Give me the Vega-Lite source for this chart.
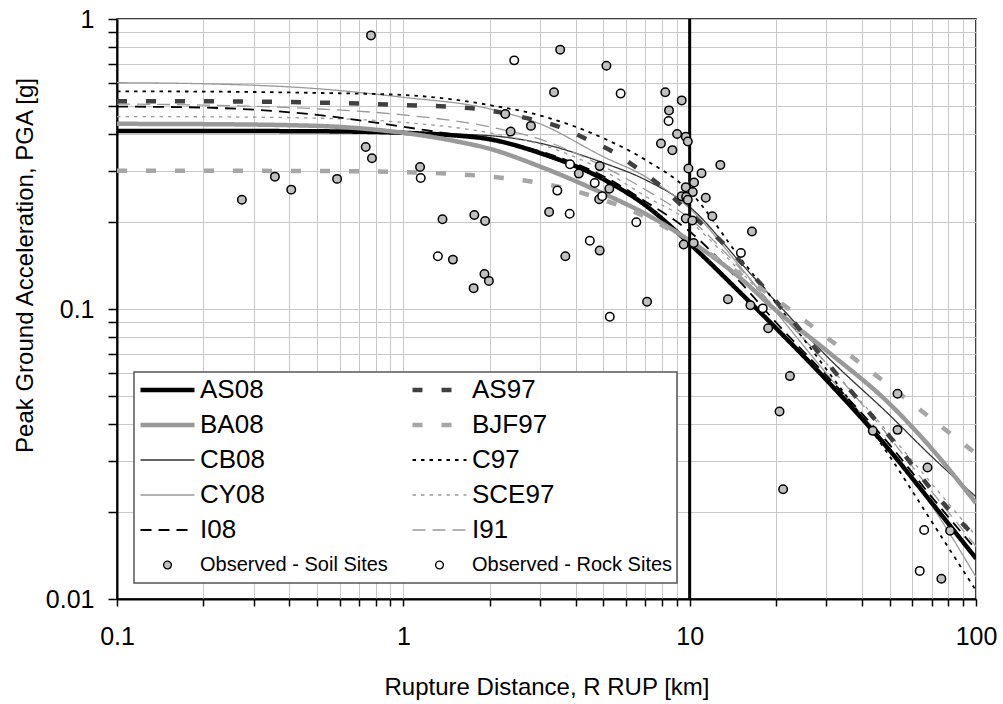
{
  "$schema": "https://vega.github.io/schema/vega-lite/v6.json",
  "width": 859,
  "height": 580,
  "autosize": {"type": "none"},
  "padding": {"left": 117, "top": 19, "right": 27, "bottom": 105},
  "background": "#ffffff",
  "config": {
    "font": "Liberation Sans",
    "view": {"stroke": "#000000", "strokeWidth": 1.5},
    "axis": {"labelFont": "Liberation Sans", "titleFont": "Liberation Sans"}
  },
  "datasets": {
    "curves": [
      {"series":"AS08","x":0.1,"y":0.411},{"series":"AS08","x":0.2,"y":0.411},{"series":"AS08","x":0.5,"y":0.41},{"series":"AS08","x":1,"y":0.405},{"series":"AS08","x":1.5,"y":0.397},{"series":"AS08","x":2,"y":0.385},{"series":"AS08","x":3,"y":0.345},{"series":"AS08","x":5,"y":0.28},{"series":"AS08","x":7,"y":0.228},{"series":"AS08","x":10,"y":0.168},{"series":"AS08","x":15,"y":0.114},{"series":"AS08","x":20,"y":0.086},{"series":"AS08","x":30,"y":0.057},{"series":"AS08","x":50,"y":0.0325},{"series":"AS08","x":70,"y":0.0215},{"series":"AS08","x":100,"y":0.0138},
      {"series":"BA08","x":0.1,"y":0.435},{"series":"BA08","x":0.2,"y":0.434},{"series":"BA08","x":0.5,"y":0.428},{"series":"BA08","x":0.7,"y":0.42},{"series":"BA08","x":1,"y":0.405},{"series":"BA08","x":1.5,"y":0.38},{"series":"BA08","x":2,"y":0.357},{"series":"BA08","x":3,"y":0.31},{"series":"BA08","x":5,"y":0.25},{"series":"BA08","x":7,"y":0.213},{"series":"BA08","x":10,"y":0.172},{"series":"BA08","x":15,"y":0.128},{"series":"BA08","x":20,"y":0.099},{"series":"BA08","x":30,"y":0.072},{"series":"BA08","x":50,"y":0.047},{"series":"BA08","x":70,"y":0.033},{"series":"BA08","x":100,"y":0.0214},
      {"series":"CB08","x":0.1,"y":0.41},{"series":"CB08","x":0.5,"y":0.41},{"series":"CB08","x":1,"y":0.405},{"series":"CB08","x":2,"y":0.396},{"series":"CB08","x":3,"y":0.373},{"series":"CB08","x":5,"y":0.319},{"series":"CB08","x":7,"y":0.279},{"series":"CB08","x":10,"y":0.225},{"series":"CB08","x":15,"y":0.145},{"series":"CB08","x":20,"y":0.106},{"series":"CB08","x":30,"y":0.069},{"series":"CB08","x":50,"y":0.043},{"series":"CB08","x":70,"y":0.031},{"series":"CB08","x":100,"y":0.0225},
      {"series":"CY08","x":0.1,"y":0.603},{"series":"CY08","x":0.2,"y":0.598},{"series":"CY08","x":0.5,"y":0.575},{"series":"CY08","x":1,"y":0.537},{"series":"CY08","x":2,"y":0.49},{"series":"CY08","x":3,"y":0.435},{"series":"CY08","x":5,"y":0.335},{"series":"CY08","x":7,"y":0.286},{"series":"CY08","x":10,"y":0.222},{"series":"CY08","x":15,"y":0.14},{"series":"CY08","x":20,"y":0.098},{"series":"CY08","x":30,"y":0.06},{"series":"CY08","x":50,"y":0.033},{"series":"CY08","x":70,"y":0.021},{"series":"CY08","x":100,"y":0.0119},
      {"series":"I08","x":0.1,"y":0.499},{"series":"I08","x":0.2,"y":0.495},{"series":"I08","x":0.5,"y":0.467},{"series":"I08","x":1,"y":0.425},{"series":"I08","x":1.5,"y":0.4},{"series":"I08","x":2,"y":0.385},{"series":"I08","x":3,"y":0.35},{"series":"I08","x":5,"y":0.287},{"series":"I08","x":7,"y":0.235},{"series":"I08","x":10,"y":0.185},{"series":"I08","x":15,"y":0.124},{"series":"I08","x":20,"y":0.09},{"series":"I08","x":30,"y":0.059},{"series":"I08","x":50,"y":0.034},{"series":"I08","x":70,"y":0.0225},{"series":"I08","x":100,"y":0.0148},
      {"series":"AS97","x":0.1,"y":0.52},{"series":"AS97","x":0.2,"y":0.52},{"series":"AS97","x":0.5,"y":0.515},{"series":"AS97","x":1,"y":0.505},{"series":"AS97","x":1.7,"y":0.493},{"series":"AS97","x":2.7,"y":0.455},{"series":"AS97","x":3.5,"y":0.425},{"series":"AS97","x":4.3,"y":0.388},{"series":"AS97","x":5.35,"y":0.35},{"series":"AS97","x":6.5,"y":0.308},{"series":"AS97","x":7.9,"y":0.266},{"series":"AS97","x":10,"y":0.214},{"series":"AS97","x":13.3,"y":0.166},{"series":"AS97","x":15.6,"y":0.14},{"series":"AS97","x":21.5,"y":0.098},{"series":"AS97","x":29,"y":0.0685},{"series":"AS97","x":39.4,"y":0.0478},{"series":"AS97","x":52.9,"y":0.0339},{"series":"AS97","x":71.3,"y":0.0233},{"series":"AS97","x":100,"y":0.0163},
      {"series":"BJF97","x":0.1,"y":0.3},{"series":"BJF97","x":0.5,"y":0.299},{"series":"BJF97","x":1,"y":0.2965},{"series":"BJF97","x":2,"y":0.286},{"series":"BJF97","x":3,"y":0.272},{"series":"BJF97","x":5,"y":0.238},{"series":"BJF97","x":7,"y":0.208},{"series":"BJF97","x":10,"y":0.1715},{"series":"BJF97","x":15,"y":0.132},{"series":"BJF97","x":20,"y":0.108},{"series":"BJF97","x":30,"y":0.08},{"series":"BJF97","x":50,"y":0.0542},{"series":"BJF97","x":70,"y":0.0418},{"series":"BJF97","x":100,"y":0.0317},
      {"series":"C97","x":0.1,"y":0.563},{"series":"C97","x":0.2,"y":0.562},{"series":"C97","x":0.5,"y":0.556},{"series":"C97","x":1,"y":0.547},{"series":"C97","x":2,"y":0.505},{"series":"C97","x":3,"y":0.465},{"series":"C97","x":5,"y":0.388},{"series":"C97","x":7,"y":0.327},{"series":"C97","x":10,"y":0.254},{"series":"C97","x":15,"y":0.15},{"series":"C97","x":20,"y":0.105},{"series":"C97","x":30,"y":0.062},{"series":"C97","x":50,"y":0.031},{"series":"C97","x":70,"y":0.0185},{"series":"C97","x":100,"y":0.0107},
      {"series":"SCE97","x":0.1,"y":0.461},{"series":"SCE97","x":0.2,"y":0.46},{"series":"SCE97","x":0.5,"y":0.455},{"series":"SCE97","x":1,"y":0.44},{"series":"SCE97","x":2,"y":0.405},{"series":"SCE97","x":3,"y":0.37},{"series":"SCE97","x":5,"y":0.3},{"series":"SCE97","x":7,"y":0.245},{"series":"SCE97","x":10,"y":0.2},{"series":"SCE97","x":15,"y":0.135},{"series":"SCE97","x":20,"y":0.1},{"series":"SCE97","x":30,"y":0.065},{"series":"SCE97","x":50,"y":0.037},{"series":"SCE97","x":70,"y":0.025},{"series":"SCE97","x":100,"y":0.0165},
      {"series":"I91","x":0.1,"y":0.509},{"series":"I91","x":0.2,"y":0.505},{"series":"I91","x":0.5,"y":0.49},{"series":"I91","x":1,"y":0.467},{"series":"I91","x":2,"y":0.425},{"series":"I91","x":3,"y":0.385},{"series":"I91","x":5,"y":0.31},{"series":"I91","x":7,"y":0.258},{"series":"I91","x":10,"y":0.205},{"series":"I91","x":15,"y":0.138},{"series":"I91","x":20,"y":0.1},{"series":"I91","x":30,"y":0.065},{"series":"I91","x":50,"y":0.036},{"series":"I91","x":70,"y":0.0235},{"series":"I91","x":100,"y":0.0152}
    ],
    "obs": [
      {"series":"Observed - Soil Sites","x":0.771,"y":0.878},{"series":"Observed - Soil Sites","x":2.27,"y":0.47},{"series":"Observed - Soil Sites","x":2.37,"y":0.409},{"series":"Observed - Soil Sites","x":2.79,"y":0.428},{"series":"Observed - Soil Sites","x":0.739,"y":0.362},{"series":"Observed - Soil Sites","x":0.777,"y":0.331},{"series":"Observed - Soil Sites","x":1.144,"y":0.309},{"series":"Observed - Soil Sites","x":0.356,"y":0.286},{"series":"Observed - Soil Sites","x":0.406,"y":0.258},{"series":"Observed - Soil Sites","x":0.587,"y":0.281},{"series":"Observed - Soil Sites","x":0.273,"y":0.238},{"series":"Observed - Soil Sites","x":1.37,"y":0.204},{"series":"Observed - Soil Sites","x":1.49,"y":0.148},{"series":"Observed - Soil Sites","x":1.77,"y":0.211},{"series":"Observed - Soil Sites","x":1.93,"y":0.201},{"series":"Observed - Soil Sites","x":1.92,"y":0.132},{"series":"Observed - Soil Sites","x":1.99,"y":0.125},{"series":"Observed - Soil Sites","x":1.76,"y":0.118},{"series":"Observed - Soil Sites","x":3.53,"y":0.784},{"series":"Observed - Soil Sites","x":5.12,"y":0.69},{"series":"Observed - Soil Sites","x":3.36,"y":0.559},{"series":"Observed - Soil Sites","x":8.22,"y":0.559},{"series":"Observed - Soil Sites","x":9.38,"y":0.524},{"series":"Observed - Soil Sites","x":8.47,"y":0.484},{"series":"Observed - Soil Sites","x":9.04,"y":0.401},{"series":"Observed - Soil Sites","x":9.69,"y":0.393},{"series":"Observed - Soil Sites","x":9.85,"y":0.378},{"series":"Observed - Soil Sites","x":7.94,"y":0.372},{"series":"Observed - Soil Sites","x":8.7,"y":0.353},{"series":"Observed - Soil Sites","x":9.9,"y":0.305},{"series":"Observed - Soil Sites","x":11.0,"y":0.294},{"series":"Observed - Soil Sites","x":12.8,"y":0.314},{"series":"Observed - Soil Sites","x":10.36,"y":0.273},{"series":"Observed - Soil Sites","x":9.69,"y":0.263},{"series":"Observed - Soil Sites","x":10.25,"y":0.253},{"series":"Observed - Soil Sites","x":9.38,"y":0.245},{"series":"Observed - Soil Sites","x":9.72,"y":0.244},{"series":"Observed - Soil Sites","x":9.85,"y":0.238},{"series":"Observed - Soil Sites","x":11.38,"y":0.242},{"series":"Observed - Soil Sites","x":12.0,"y":0.209},{"series":"Observed - Soil Sites","x":9.69,"y":0.205},{"series":"Observed - Soil Sites","x":10.22,"y":0.202},{"series":"Observed - Soil Sites","x":16.5,"y":0.185},{"series":"Observed - Soil Sites","x":9.53,"y":0.167},{"series":"Observed - Soil Sites","x":10.33,"y":0.169},{"series":"Observed - Soil Sites","x":13.6,"y":0.108},{"series":"Observed - Soil Sites","x":16.3,"y":0.103},{"series":"Observed - Soil Sites","x":4.1,"y":0.293},{"series":"Observed - Soil Sites","x":4.85,"y":0.311},{"series":"Observed - Soil Sites","x":5.24,"y":0.26},{"series":"Observed - Soil Sites","x":4.83,"y":0.239},{"series":"Observed - Soil Sites","x":3.23,"y":0.216},{"series":"Observed - Soil Sites","x":4.85,"y":0.159},{"series":"Observed - Soil Sites","x":3.68,"y":0.152},{"series":"Observed - Soil Sites","x":7.1,"y":0.106},{"series":"Observed - Soil Sites","x":18.8,"y":0.0858},{"series":"Observed - Soil Sites","x":22.4,"y":0.0587},{"series":"Observed - Soil Sites","x":20.6,"y":0.0443},{"series":"Observed - Soil Sites","x":21.2,"y":0.0239},{"series":"Observed - Soil Sites","x":43.6,"y":0.038},{"series":"Observed - Soil Sites","x":53.2,"y":0.051},{"series":"Observed - Soil Sites","x":53.2,"y":0.0383},{"series":"Observed - Soil Sites","x":67.7,"y":0.0284},{"series":"Observed - Soil Sites","x":81.2,"y":0.0172},{"series":"Observed - Soil Sites","x":75.7,"y":0.01175},
      {"series":"Observed - Rock Sites","x":1.15,"y":0.283},{"series":"Observed - Rock Sites","x":1.32,"y":0.152},{"series":"Observed - Rock Sites","x":2.44,"y":0.72},{"series":"Observed - Rock Sites","x":5.74,"y":0.553},{"series":"Observed - Rock Sites","x":8.44,"y":0.445},{"series":"Observed - Rock Sites","x":15.1,"y":0.156},{"series":"Observed - Rock Sites","x":18.0,"y":0.1005},{"series":"Observed - Rock Sites","x":3.82,"y":0.3155},{"series":"Observed - Rock Sites","x":4.66,"y":0.272},{"series":"Observed - Rock Sites","x":4.95,"y":0.245},{"series":"Observed - Rock Sites","x":3.45,"y":0.256},{"series":"Observed - Rock Sites","x":3.81,"y":0.213},{"series":"Observed - Rock Sites","x":6.51,"y":0.199},{"series":"Observed - Rock Sites","x":4.48,"y":0.172},{"series":"Observed - Rock Sites","x":5.26,"y":0.094},{"series":"Observed - Rock Sites","x":65.9,"y":0.0173},{"series":"Observed - Rock Sites","x":63.6,"y":0.0125}
    ],
    "ref": [{"x": 10}]
  },
  "encoding": {
    "x": {
      "field": "x", "type": "quantitative",
      "scale": {"type": "log", "domain": [0.1, 100], "nice": false},
      "axis": {
        "values": [0.1,0.2,0.3,0.4,0.5,0.6,0.7,0.8,0.9,1,2,3,4,5,6,7,8,9,10,20,30,40,50,60,70,80,90,100],
        "labelExpr": "indexof([0.1,1,10,100], datum.value) >= 0 ? format(datum.value, '~g') : ''",
        "labelOverlap": false, "labelFlush": false,
        "grid": true, "gridColor": "#c8c8c8", "gridWidth": 1,
        "tickSize": 7, "tickColor": "#000000", "tickWidth": 1.5,
        "domainColor": "#000000", "domainWidth": 2,
        "labelFontSize": 25, "labelColor": "#000000", "labelPadding": 18,
        "title": "Rupture Distance, R RUP  [km]",
        "titleFontSize": 24, "titleFontWeight": "normal", "titleColor": "#000000", "titlePadding": 26
      }
    },
    "y": {
      "field": "y", "type": "quantitative",
      "scale": {"type": "log", "domain": [0.01, 1], "nice": false},
      "axis": {
        "values": [0.01,0.02,0.03,0.04,0.05,0.06,0.07,0.08,0.09,0.1,0.2,0.3,0.4,0.5,0.6,0.7,0.8,0.9,1],
        "labelExpr": "indexof([0.01,0.1,1], datum.value) >= 0 ? format(datum.value, '~g') : ''",
        "labelOverlap": false, "labelFlush": false,
        "grid": true, "gridColor": "#c8c8c8", "gridWidth": 1,
        "tickSize": 9, "tickColor": "#000000", "tickWidth": 1.5,
        "domainColor": "#000000", "domainWidth": 2,
        "labelFontSize": 25, "labelColor": "#000000", "labelPadding": 14,
        "title": "Peak Ground Acceleration, PGA  [g]",
        "titleFontSize": 24, "titleFontWeight": "normal", "titleColor": "#000000", "titlePadding": 8,
        "titleY": 246
      }
    }
  },
  "layer": [
    {
      "data": {"name": "curves"},
      "transform": [{"filter": {"field": "series", "oneOf": ["CB08","CY08","SCE97","I91"]}}],
      "mark": {"type": "line", "interpolate": "monotone", "strokeWidth": 1.3, "clip": true},
      "encoding": {
        "color": {
          "field": "series", "type": "nominal",
          "scale": {"domain": ["AS08","AS97","BA08","BJF97","CB08","C97","CY08","SCE97","I08","I91","Observed - Soil Sites","Observed - Rock Sites"], "range": ["#000000","#404040","#999999","#a6a6a6","#333333","#000000","#999999","#999999","#000000","#999999","#000000","#000000"]},
          "legend": {
            "title": null, "orient": "none", "legendX": 17, "legendY": 353,
            "direction": "horizontal", "columns": 2,
            "padding": 4, "fillColor": "#ffffff", "strokeColor": "#555555",
            "labelFontSize": 26, "labelColor": "#000000", "labelFont": "Liberation Sans",
            "labelOffset": 3, "labelLimit": 400,
            "clipHeight": 28, "rowPadding": 7, "columnPadding": 22,
            "symbolType": "stroke", "symbolSize": 2916, "symbolStrokeWidth": 2,
            "encode": {
              "legend": {"update": {"strokeWidth": {"value": 1.5}}},
              "symbols": {"update": {
                "shape": {"signal": "indexof('' + (datum.value || datum), 'Observed') == 0 ? 'circle' : 'stroke'"},
                "size": {"signal": "indexof('' + (datum.value || datum), 'Observed') == 0 ? 60 : 2916"},
                "fill": {"signal": "(datum.value || datum) == 'Observed - Soil Sites' ? '#c0c0c0' : ((datum.value || datum) == 'Observed - Rock Sites' ? '#ffffff' : 'transparent')"},
                "strokeWidth": {"signal": "({'AS08':4.5,'AS97':4.5,'BA08':4.5,'BJF97':4.5,'CB08':1.3,'C97':1.8,'CY08':1.3,'SCE97':1.5,'I08':1.8,'I91':1.5,'Observed - Soil Sites':1.3,'Observed - Rock Sites':1.3})[datum.value || datum] || 1.5"},
                "strokeDash": {"signal": "({'AS08':[1,0],'AS97':[10,19],'BA08':[1,0],'BJF97':[10,19],'CB08':[1,0],'C97':[3.5,5],'CY08':[1,0],'SCE97':[3.5,5],'I08':[11,7],'I91':[13,7],'Observed - Soil Sites':[1,0],'Observed - Rock Sites':[1,0]})[datum.value || datum]"},
                "opacity": {"value": 1}
              }},
              "labels": {"update": {
                "fontSize": {"signal": "indexof('' + (datum.value || datum), 'Observed') == 0 ? 20 : 26"}
              }}
            }
          }
        },
        "strokeDash": {
          "field": "series", "type": "nominal", "legend": null,
          "scale": {"domain": ["AS08","AS97","BA08","BJF97","CB08","C97","CY08","SCE97","I08","I91"], "range": [[1,0],[10,19],[1,0],[10,19],[1,0],[3.5,5],[1,0],[3.5,5],[11,7],[13,7]]}
        }
      }
    },
    {
      "data": {"name": "curves"},
      "transform": [{"filter": {"field": "series", "oneOf": ["I08","C97"]}}],
      "mark": {"type": "line", "interpolate": "monotone", "strokeWidth": 1.8, "clip": true},
      "encoding": {
        "color": {"field": "series", "type": "nominal",
          "scale": {"domain": ["AS08","AS97","BA08","BJF97","CB08","C97","CY08","SCE97","I08","I91","Observed - Soil Sites","Observed - Rock Sites"], "range": ["#000000","#404040","#999999","#a6a6a6","#333333","#000000","#999999","#999999","#000000","#999999","#000000","#000000"]}},
        "strokeDash": {
          "field": "series", "type": "nominal", "legend": null,
          "scale": {"domain": ["AS08","AS97","BA08","BJF97","CB08","C97","CY08","SCE97","I08","I91"], "range": [[1,0],[10,19],[1,0],[10,19],[1,0],[3.5,5],[1,0],[3.5,5],[11,7],[13,7]]}
        }
      }
    },
    {
      "data": {"name": "curves"},
      "transform": [{"filter": {"field": "series", "oneOf": ["BJF97","AS97","BA08","AS08"]}}],
      "mark": {"type": "line", "interpolate": "monotone", "strokeWidth": 4.5, "clip": true},
      "encoding": {
        "color": {"field": "series", "type": "nominal",
          "scale": {"domain": ["AS08","AS97","BA08","BJF97","CB08","C97","CY08","SCE97","I08","I91","Observed - Soil Sites","Observed - Rock Sites"], "range": ["#000000","#404040","#999999","#a6a6a6","#333333","#000000","#999999","#999999","#000000","#999999","#000000","#000000"]}},
        "strokeDash": {
          "field": "series", "type": "nominal", "legend": null,
          "scale": {"domain": ["AS08","AS97","BA08","BJF97","CB08","C97","CY08","SCE97","I08","I91"], "range": [[1,0],[10,19],[1,0],[10,19],[1,0],[3.5,5],[1,0],[3.5,5],[11,7],[13,7]]}
        }
      }
    },
    {
      "data": {"name": "ref"},
      "mark": {"type": "rule", "color": "#000000", "strokeWidth": 3},
      "encoding": {"x": {"field": "x", "type": "quantitative"}, "y": null}
    },
    {
      "data": {"name": "obs"},
      "mark": {"type": "point", "shape": "circle", "filled": false, "strokeWidth": 1.5, "size": 72, "opacity": 1, "fillOpacity": 1},
      "encoding": {
        "color": {"field": "series", "type": "nominal",
          "scale": {"domain": ["AS08","AS97","BA08","BJF97","CB08","C97","CY08","SCE97","I08","I91","Observed - Soil Sites","Observed - Rock Sites"], "range": ["#000000","#404040","#999999","#a6a6a6","#333333","#000000","#999999","#999999","#000000","#999999","#000000","#000000"]}},
        "fill": {"field": "series", "type": "nominal", "legend": null,
          "scale": {"domain": ["Observed - Soil Sites","Observed - Rock Sites"], "range": ["#c0c0c0","#ffffff"]}}
      }
    }
  ]
}
